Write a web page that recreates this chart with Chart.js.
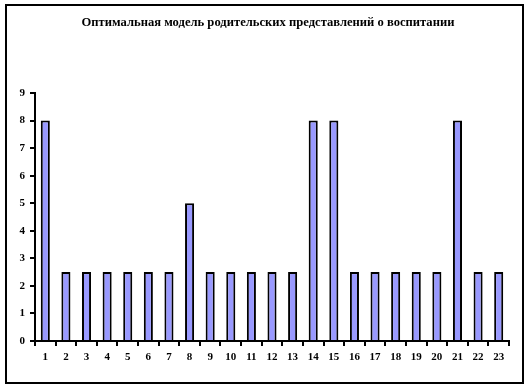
<!DOCTYPE html>
<html>
<head>
<meta charset="utf-8">
<script src="https://cdn.jsdelivr.net/npm/chart.js@4.4.0/dist/chart.umd.min.js"></script>
<style>
html,body{margin:0;padding:0;background:#fff;}
#wrap{position:absolute;left:0;top:0;width:527px;height:389px;}
</style>
</head>
<body>
<div id="wrap"><canvas id="c" width="527" height="389"></canvas></div>
<script>
const titleText = "Оптимальная модель родительских представлений о воспитании";
const categories = ["1","2","3","4","5","6","7","8","9","10","11","12","13","14","15","16","17","18","19","20","21","22","23"];
const values = [8,2.5,2.5,2.5,2.5,2.5,2.5,5,2.5,2.5,2.5,2.5,2.5,8,8,2.5,2.5,2.5,2.5,2.5,8,2.5,2.5];
const yTicks = [0,1,2,3,4,5,6,7,8,9];

const frameAndTitle = {
  id: 'frameAndTitle',
  beforeDraw(chart) {
    const ctx = chart.ctx;
    ctx.save();
    ctx.fillStyle = '#fff';
    ctx.fillRect(0, 0, chart.width, chart.height);
    ctx.restore();
  },
  afterDraw(chart) {
    const ctx = chart.ctx;
    ctx.save();
    ctx.strokeStyle = '#000';
    ctx.lineWidth = 2;
    ctx.strokeRect(6, 5, 517, 378);
    ctx.fillStyle = '#000';
    ctx.font = 'bold 12.6px "Liberation Serif", "Times New Roman", serif';
    ctx.textAlign = 'center';
    ctx.textBaseline = 'middle';
    ctx.fillText(titleText, 268, 23);
    ctx.restore();
  }
};

const tickFont = {family: '"Liberation Serif", "Times New Roman", serif', size: 11, weight: 'bold'};

new Chart(document.getElementById('c'), {
  type: 'bar',
  data: {
    labels: categories,
    datasets: [{
      data: values,
      backgroundColor: '#9999FF',
      borderColor: '#000',
      borderWidth: 2,
      barPercentage: 0.44,
      categoryPercentage: 1.0
    }]
  },
  options: {
    responsive: false,
    animation: false,
    devicePixelRatio: 1,
    layout: {padding: {top: 93, right: 18, bottom: 18, left: 0}},
    plugins: {legend: {display: false}, title: {display: false}, tooltip: {enabled: false}},
    scales: {
      x: {
        grid: {display: true, drawOnChartArea: false, drawTicks: true, tickLength: 5, color: '#000', lineWidth: 2, offset: true},
        border: {display: true, color: '#000', width: 2},
        ticks: {color: '#000', font: tickFont, padding: 5, maxRotation: 0, autoSkip: false},
        afterFit(scale) { scale.height = 30; }
      },
      y: {
        min: 0, max: 9,
        afterBuildTicks(scale) { scale.ticks = yTicks.map(v => ({value: v})); },
        grid: {display: true, drawOnChartArea: false, drawTicks: true, tickLength: 5, color: '#000', lineWidth: 2},
        border: {display: true, color: '#000', width: 2},
        ticks: {color: '#000', font: tickFont, padding: 5},
        afterFit(scale) { scale.width = 35; }
      }
    }
  },
  plugins: [frameAndTitle]
});
</script>
</body>
</html>
